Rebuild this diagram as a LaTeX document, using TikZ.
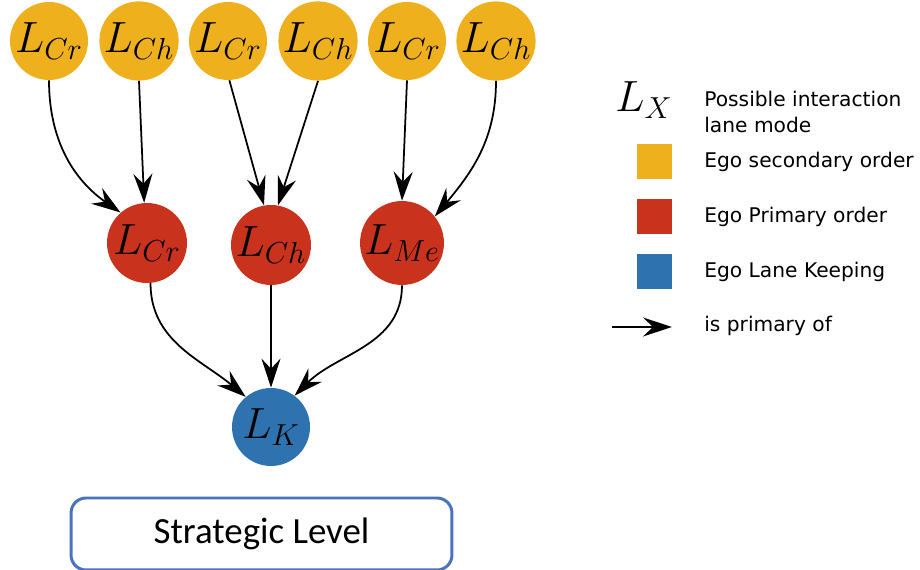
\documentclass[tikz,border=0pt]{standalone}
\usepackage{fontspec}
\newfontfamily\legendfont{DejaVu Sans}
\newfontfamily\boxfont{Carlito}
\usetikzlibrary{arrows.meta}
\definecolor{secyellow}{RGB}{239,176,29}
\definecolor{prired}{RGB}{201,50,29}
\definecolor{lkblue}{RGB}{46,115,176}
\definecolor{boxblue}{RGB}{74,114,191}
\begin{document}
\begin{tikzpicture}[x=0.02cm, y=0.02cm,
  mode/.style={circle, minimum size=1.56cm, inner sep=0pt, font=\fontsize{24}{28}\selectfont},
  sec/.style={mode, fill=secyellow},
  pri/.style={mode, fill=prired, minimum size=1.6cm},
  lk/.style={mode, fill=lkblue},
  link/.style={-{Stealth[length=0.58cm, width=0.38cm, inset=0.2cm]}, line width=1pt},
  key/.style={minimum size=0.7cm, inner sep=0pt},
  keytext/.style={anchor=west, align=left, inner sep=0pt, font=\legendfont\fontsize{11.5}{14.5}\selectfont}]
  \useasboundingbox (0,0) rectangle (920,-570);
  % Secondary order
  \node[sec] (s1) at (49,-41) {$L_{Cr}$};
  \node[sec] (s2) at (139,-41) {$L_{Ch}$};
  \node[sec] (s3) at (228,-41) {$L_{Cr}$};
  \node[sec] (s4) at (318,-41) {$L_{Ch}$};
  \node[sec] (s5) at (407,-41) {$L_{Cr}$};
  \node[sec] (s6) at (496,-41) {$L_{Ch}$};
  % Primary order
  \node[pri] (p1) at (147,-243) {$L_{Cr}$};
  \node[pri] (p2) at (271,-245) {$L_{Ch}$};
  \node[pri] (p3) at (402,-243) {$L_{Me}$};
  % Lane keeping
  \node[lk] (k) at (271,-427) {$L_K$};
  % Secondary -> primary
  \draw[link] (s1.south) to[out=-90, in=145] (p1.131);
  \draw[link] (s2.south) -- (p1.94);
  \draw[link] (s3.-88) -- (p2.100);
  \draw[link] (s4.south) -- (p2.80);
  \draw[link] (s5.south) -- (p3.90);
  \draw[link] (s6.south) to[out=-90, in=50] (p3.39);
  % Primary -> lane keeping
  \draw[link] (p1.-85) to[out=-90, in=140] (k.130);
  \draw[link] (p2.south) -- (k.north);
  \draw[link] (p3.south) to[out=-90, in=45] (k.53);
  % Level
  \node[draw=boxblue, line width=1.7pt, rounded corners=0.3cm, minimum width=7.62cm,
    minimum height=1.44cm, font=\boxfont\fontsize{21}{25}\selectfont] (lvl) at (261.5,-534) {Strategic Level};
  % Legend
  \node[font=\fontsize{24}{28}\selectfont] (lx) at (644,-100) {$L_X$};
  \node[keytext] (tx) at (704,-112) {Possible interaction\\lane mode};
  \node[key, fill=secyellow] (ksec) at (654.5,-162) {};
  \node[keytext] (tsec) at (704,-162) {Ego secondary order};
  \node[key, fill=prired] (kpri) at (654.5,-217) {};
  \node[keytext] (tpri) at (704,-217) {Ego Primary order};
  \node[key, fill=lkblue] (klk) at (654.5,-272) {};
  \node[keytext] (tlk) at (704,-272) {Ego Lane Keeping};
  \coordinate (a1) at (612,-327);
  \coordinate (a2) at (672,-327);
  \draw[link] (a1) -- (a2);
  \node[keytext] (tarr) at (704,-326) {is primary of};
\end{tikzpicture}
\end{document}
